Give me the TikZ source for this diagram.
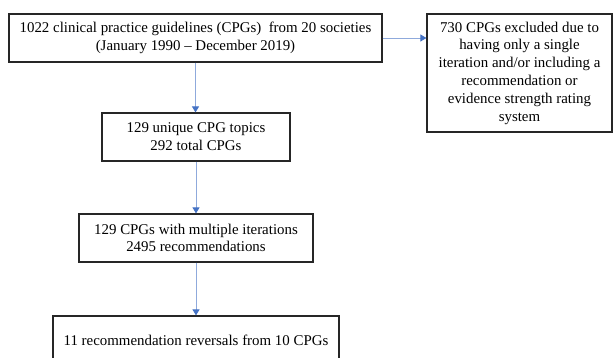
\documentclass[tikz,border=0pt]{standalone}
\usepackage{fontspec}
\setmainfont{Liberation Serif}
\usetikzlibrary{arrows.meta}
\definecolor{linec}{HTML}{8FAADC}
\definecolor{headc}{HTML}{4472C4}
\begin{document}
\begin{tikzpicture}[x=1pt,y=-1pt,
  box/.style={draw=black!85, line width=1.2pt, align=center, inner sep=0pt,
    font=\fontsize{14.9}{17.8}\selectfont},
  conn/.style={draw=linec, line width=0.9pt,
    -{Triangle[length=6pt,width=7pt,color=headc]}}]
\useasboundingbox (0,0) rectangle (613,358);
\clip (0,0) rectangle (613,358);
\node[box, minimum width=373pt, minimum height=48pt] (a) at (195.5,38)
  {1022 clinical practice guidelines (CPGs)\ \ from 20 societies\\(January 1990 -- December 2019)};
\node[box, minimum width=185pt, minimum height=118pt] (b) at (519.5,73)
  {730 CPGs excluded due to\\having only a single\\iteration and/or including a\\recommendation or\\evidence strength rating\\system};
\node[box, minimum width=188pt, minimum height=48pt] (c) at (196,137)
  {129 unique CPG topics\\292 total CPGs};
\node[box, minimum width=234pt, minimum height=48pt] (d) at (196,238)
  {129 CPGs with multiple iterations\\2495 recommendations};
\node[box, minimum width=286pt, minimum height=48pt] (e) at (196,340)
  {11 recommendation reversals from 10 CPGs};
\draw[conn] (a.east) -- (a.east -| b.west);
\draw[conn] (a.south) -- (a.south |- c.north);
\draw[conn] (c.south) -- (c.south |- d.north);
\draw[conn] (d.south) -- (d.south |- e.north);
\end{tikzpicture}
\end{document}
